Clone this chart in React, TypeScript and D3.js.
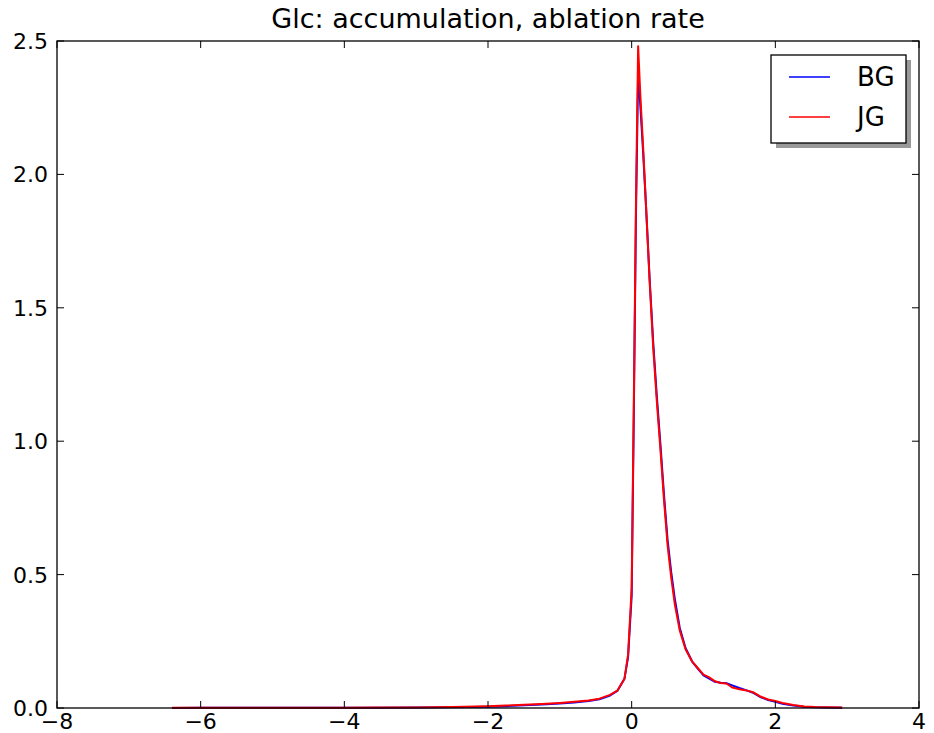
import React from "react";
import * as d3 from "d3";

// Rate values (x) where the two density curves are sampled
const xs = [
  -6.4, -6.0, -5.5, -5.0, -4.5, -4.0, -3.5, -3.0, -2.5, -2.0, -1.75, -1.5, -1.25, -1.0, -0.8,
  -0.6, -0.45, -0.3, -0.2, -0.1, -0.05, 0.0, 0.03, 0.06, 0.09, 0.12, 0.16, 0.2, 0.25, 0.3,
  0.35, 0.4, 0.45, 0.5, 0.55, 0.6, 0.67, 0.75, 0.84, 0.92, 1.0, 1.08, 1.16, 1.24, 1.32, 1.4,
  1.5, 1.6, 1.7, 1.8, 1.9, 2.0, 2.1, 2.25, 2.4, 2.55, 2.7, 2.93,
];

const bgValues = [
  0.0004, 0.0005, 0.0006, 0.0007, 0.0008, 0.001, 0.0012, 0.0016, 0.003, 0.005, 0.007, 0.01,
  0.013, 0.017, 0.021, 0.026, 0.033, 0.047, 0.064, 0.11, 0.19, 0.42, 1.1, 1.85, 2.38, 2.26,
  2.08, 1.88, 1.61, 1.37, 1.17, 0.99, 0.8, 0.63, 0.51, 0.41, 0.3, 0.225, 0.175, 0.148, 0.122,
  0.11, 0.098, 0.095, 0.093, 0.085, 0.075, 0.066, 0.056, 0.04, 0.03, 0.023, 0.016, 0.009,
  0.005, 0.003, 0.002, 0.001,
];

const jgValues = [
  0.0005, 0.0006, 0.0007, 0.0008, 0.001, 0.0012, 0.0015, 0.002, 0.004, 0.007, 0.009, 0.012,
  0.015, 0.019, 0.023, 0.028, 0.035, 0.049, 0.065, 0.11, 0.2, 0.45, 1.15, 1.9, 2.48, 2.3, 2.1,
  1.88, 1.6, 1.35, 1.15, 0.97, 0.78, 0.61, 0.49, 0.39, 0.29, 0.22, 0.175, 0.15, 0.125, 0.115,
  0.1, 0.094, 0.092, 0.077, 0.07, 0.066, 0.058, 0.042, 0.032, 0.026, 0.019, 0.011, 0.006,
  0.004, 0.003, 0.002,
];

const xTicks = [-8, -6, -4, -2, 0, 2, 4];
const yTicks = [0.0, 0.5, 1.0, 1.5, 2.0, 2.5];

const series = [
  { name: "BG", color: "#0000ff", values: bgValues },
  { name: "JG", color: "#ff0000", values: jgValues },
];

const title = "Glc: accumulation, ablation rate";

const W = 934;
const H = 733;
const margin = { left: 57, right: 15, top: 41, bottom: 25 };
const font = "DejaVu Sans, sans-serif";

export default function App() {
  const x = d3.scaleLinear().domain([-8, 4]).range([margin.left, W - margin.right]);
  const y = d3.scaleLinear().domain([0, 2.5]).range([H - margin.bottom, margin.top]);
  const [x0, x1] = x.range();
  const [yb, yt] = y.range();
  const tickLen = 7;

  const line = (vals: number[]) =>
    d3
      .line<number>()
      .x((_, i) => x(xs[i]))
      .y((d) => y(d))(vals) || "";

  return (
    <svg
      width={W}
      height={H}
      style={{ position: "absolute", left: 0, top: 0, background: "#fff" }}
      fontFamily={font}
    >
      <rect x={0} y={0} width={W} height={H} fill="#fff" />
      <text x={(x0 + x1) / 2} y={28} textAnchor="middle" fontSize={27} fill="#000">
        {title}
      </text>

      {/* curves */}
      <g fill="none" strokeWidth={2} strokeLinejoin="round">
        {series.map((s) => (
          <path key={s.name} d={line(s.values)} stroke={s.color} />
        ))}
      </g>

      {/* ticks on all four sides, pointing inward */}
      <g stroke="#000" strokeWidth={1}>
        {xTicks.map((t) => (
          <g key={"xt" + t}>
            <line x1={x(t)} x2={x(t)} y1={yb} y2={yb - tickLen} />
            <line x1={x(t)} x2={x(t)} y1={yt} y2={yt + tickLen} />
          </g>
        ))}
        {yTicks.map((t) => (
          <g key={"yt" + t}>
            <line x1={x0} x2={x0 + tickLen} y1={y(t)} y2={y(t)} />
            <line x1={x1} x2={x1 - tickLen} y1={y(t)} y2={y(t)} />
          </g>
        ))}
      </g>

      <rect
        x={x0}
        y={yt}
        width={x1 - x0}
        height={yb - yt}
        fill="none"
        stroke="#000"
        strokeWidth={1.3}
      />

      {/* tick labels */}
      <g fontSize={22} fill="#000">
        {xTicks.map((t) => (
          <text key={"xl" + t} x={x(t)} y={yb + 21} textAnchor="middle">
            {t < 0 ? "\u2212" + Math.abs(t) : String(t)}
          </text>
        ))}
        {yTicks.map((t) => (
          <text key={"yl" + t} x={x0 - 9} y={y(t) + 8} textAnchor="end">
            {t.toFixed(1)}
          </text>
        ))}
      </g>

      {/* legend */}
      <g>
        <rect x={776} y={60} width={135} height={88} fill="#999" />
        <rect x={771} y={55} width={135} height={88} fill="#fff" stroke="#000" strokeWidth={1.3} />
        {series.map((s, i) => (
          <g key={"lg" + s.name}>
            <line x1={789} x2={830} y1={77 + i * 40} y2={77 + i * 40} stroke={s.color} strokeWidth={1.5} />
            <text x={857} y={86 + i * 40} fontSize={26} fill="#000">
              {s.name}
            </text>
          </g>
        ))}
      </g>
    </svg>
  );
}
